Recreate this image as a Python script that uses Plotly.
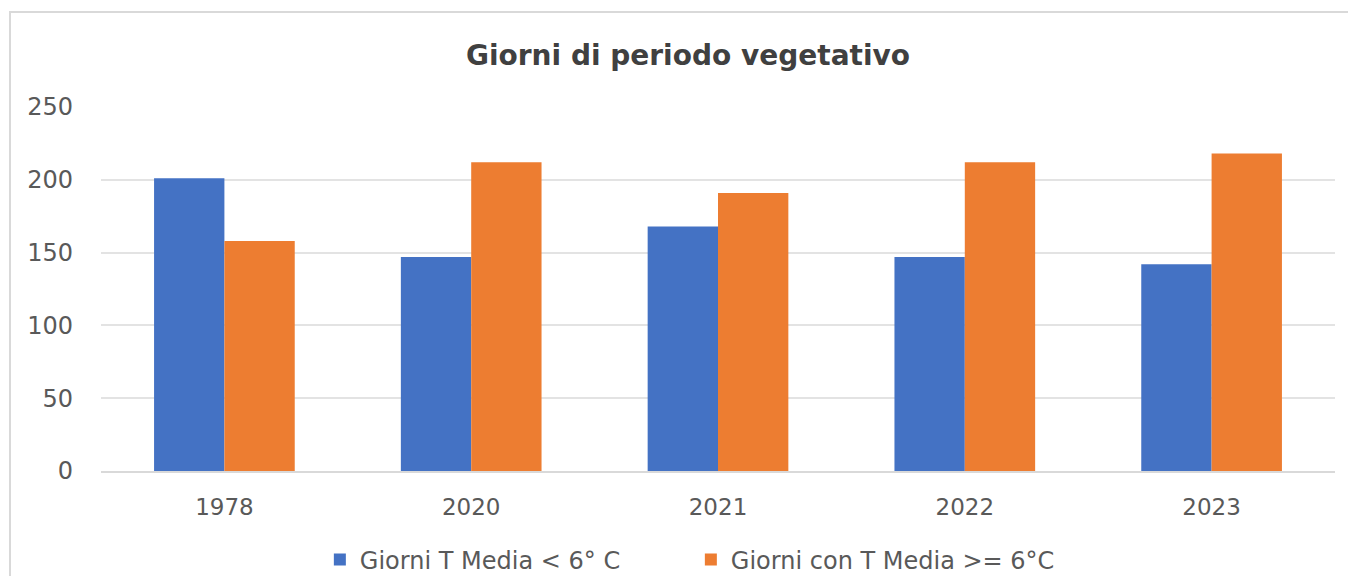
import plotly.graph_objects as go

years = ["1978", "2020", "2021", "2022", "2023"]
giorni_sotto = [201, 147, 168, 147, 142]
giorni_sopra = [158, 212, 191, 212, 218]
series_names = ["Giorni T Media < 6° C", "Giorni con T Media >= 6°C"]
y_ticks = [0, 50, 100, 150, 200, 250]

FONT = "'DejaVu Sans', sans-serif"
GRAY = "#595959"

W, H = 1348, 568
L, R, T, B = 93, 21, 99, 105
plot_w = W - L - R
plot_h = H - T - B

fig = go.Figure()
fig.add_trace(go.Bar(x=years, y=giorni_sotto, name=series_names[0],
                     marker=dict(color="#4472C4", line=dict(width=0))))
fig.add_trace(go.Bar(x=years, y=giorni_sopra, name=series_names[1],
                     marker=dict(color="#ED7D31", line=dict(width=0))))

fig.update_layout(
    width=W, height=H,
    margin=dict(l=L, r=R, t=T, b=B, autoexpand=False),
    paper_bgcolor="white", plot_bgcolor="white",
    barmode="group", bargap=0.43, bargroupgap=0,
    title=dict(text="<b>Giorni di periodo vegetativo</b>", x=680 / W, xanchor="center",
               y=1 - 47 / H, yanchor="middle",
               font=dict(family=FONT, size=28, color="#404040")),
    font=dict(family=FONT, color=GRAY),
    xaxis=dict(showgrid=False, showline=True, linecolor="#D9D9D9", linewidth=1.5,
               ticks="", tickfont=dict(size=23, color=GRAY), ticklabelstandoff=15),
    yaxis=dict(range=[0, 250], tickvals=y_ticks, showgrid=True, gridcolor="#E3E3E3",
               gridwidth=1.5, zeroline=False, showline=False,
               tickfont=dict(size=24, color=GRAY), ticklabelstandoff=27),
    legend=dict(orientation="h", x=0.478, xanchor="center", yref="container",
                y=(H - 552) / H, yanchor="middle",
                font=dict(size=24, color=GRAY), itemwidth=30,
                entrywidth=326, entrywidthmode="pixels",
                traceorder="normal"),
    shapes=[dict(type="rect", xref="paper", yref="paper",
                 x0=(2 - L) / plot_w, x1=1.05, y0=-0.5, y1=(plot_h + T - 4) / plot_h,
                 line=dict(color="#D9D9D9", width=2), fillcolor="rgba(0,0,0,0)",
                 layer="below")],
)

fig.write_html("out.html")
